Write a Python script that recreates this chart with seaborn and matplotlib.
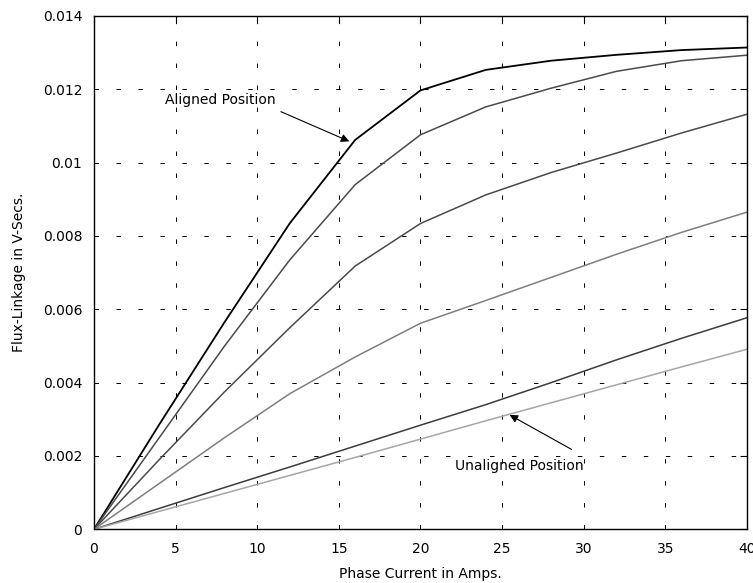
import numpy as np
import pandas as pd
import matplotlib
matplotlib.use('Agg')
import matplotlib.pyplot as plt
import seaborn as sns

# 相電流 (A) 與各轉子位置的磁鏈 (V-s)
current = [0, 4, 8, 12, 16, 20, 24, 28, 32, 36, 40]
flux_aligned = [0, 0.00286, 0.00565, 0.00835, 0.01062, 0.01197, 0.01253, 0.01278, 0.01294, 0.01307, 0.01314]
flux_pos2 = [0, 0.0025, 0.0050, 0.00735, 0.0094, 0.01076, 0.01152, 0.01203, 0.01249, 0.01278, 0.01293]
flux_pos3 = [0, 0.0019, 0.00375, 0.0055, 0.00718, 0.00834, 0.00912, 0.00973, 0.01026, 0.01081, 0.01132]
flux_pos4 = [0, 0.00125, 0.0025, 0.0037, 0.0047, 0.00562, 0.00624, 0.00687, 0.0075, 0.0081, 0.00865]
flux_pos5 = [0, 0.00057, 0.00114, 0.0017, 0.00227, 0.00284, 0.0034, 0.0040, 0.00462, 0.00521, 0.00577]
flux_unaligned = [0, 0.00049, 0.00098, 0.00147, 0.00196, 0.00246, 0.00296, 0.00345, 0.00394, 0.00443, 0.00491]

x_ticks = [0, 5, 10, 15, 20, 25, 30, 35, 40]
y_ticks = [0, 0.002, 0.004, 0.006, 0.008, 0.01, 0.012, 0.014]
y_tick_labels = ['0', '0.002', '0.004', '0.006', '0.008', '0.01', '0.012', '0.014']

sns.set_style('white')
plt.rcParams['font.family'] = ['DejaVu Sans']
plt.rcParams['font.size'] = 10
plt.rcParams['text.color'] = 'black'
plt.rcParams['axes.labelcolor'] = 'black'

fig = plt.figure(figsize=(7.53, 5.83), dpi=100)
ax = fig.add_axes([0.1248, 0.0921, 0.8672, 0.8805])

curves = [flux_aligned, flux_pos2, flux_pos3, flux_pos4, flux_pos5, flux_unaligned]
colors = ['#000000', '#4a4a4a', '#4a4a4a', '#7f7f7f', '#3c3c3c', '#a6a6a6']
widths = [1.3, 1.1, 1.1, 1.1, 1.1, 1.1]
for y, c, w in zip(curves, colors, widths):
    sns.lineplot(x=current, y=y, color=c, lw=w, ax=ax)

ax.set_xlim(0, 40)
ax.set_ylim(0, 0.014)
ax.set_xticks(x_ticks)
ax.set_yticks(y_ticks)
ax.set_yticklabels(y_tick_labels)
ax.grid(True, color='black', lw=0.7, linestyle=(0, (4.6, 18)))
ax.tick_params(direction='in', length=5, width=0.8, top=True, right=True,
               labelsize=10, colors='black')
ax.tick_params(axis='x', pad=9)
ax.tick_params(axis='y', pad=8.5)
for s in ax.spines.values():
    s.set_color('black')
    s.set_linewidth(1.0)

ax.set_xlabel('Phase Current in Amps.', fontsize=10, labelpad=8)
ax.set_ylabel('Flux-Linkage in V-Secs.', fontsize=10, labelpad=12)

arrow = dict(arrowstyle='-|>', color='black', lw=0.8, mutation_scale=12, shrinkA=0, shrinkB=0)
ax.annotate('', xy=(15.64, 0.01058), xytext=(11.45, 0.01139), arrowprops=arrow)
ax.text(4.36, 0.01171, 'Aligned Position', fontsize=10, ha='left', va='center')
ax.annotate('', xy=(25.46, 0.00312), xytext=(29.25, 0.00218), arrowprops=arrow)
ax.text(22.1, 0.00173, 'Unaligned Position', fontsize=10, ha='left', va='center')

fig.savefig('out.png', dpi=100)
